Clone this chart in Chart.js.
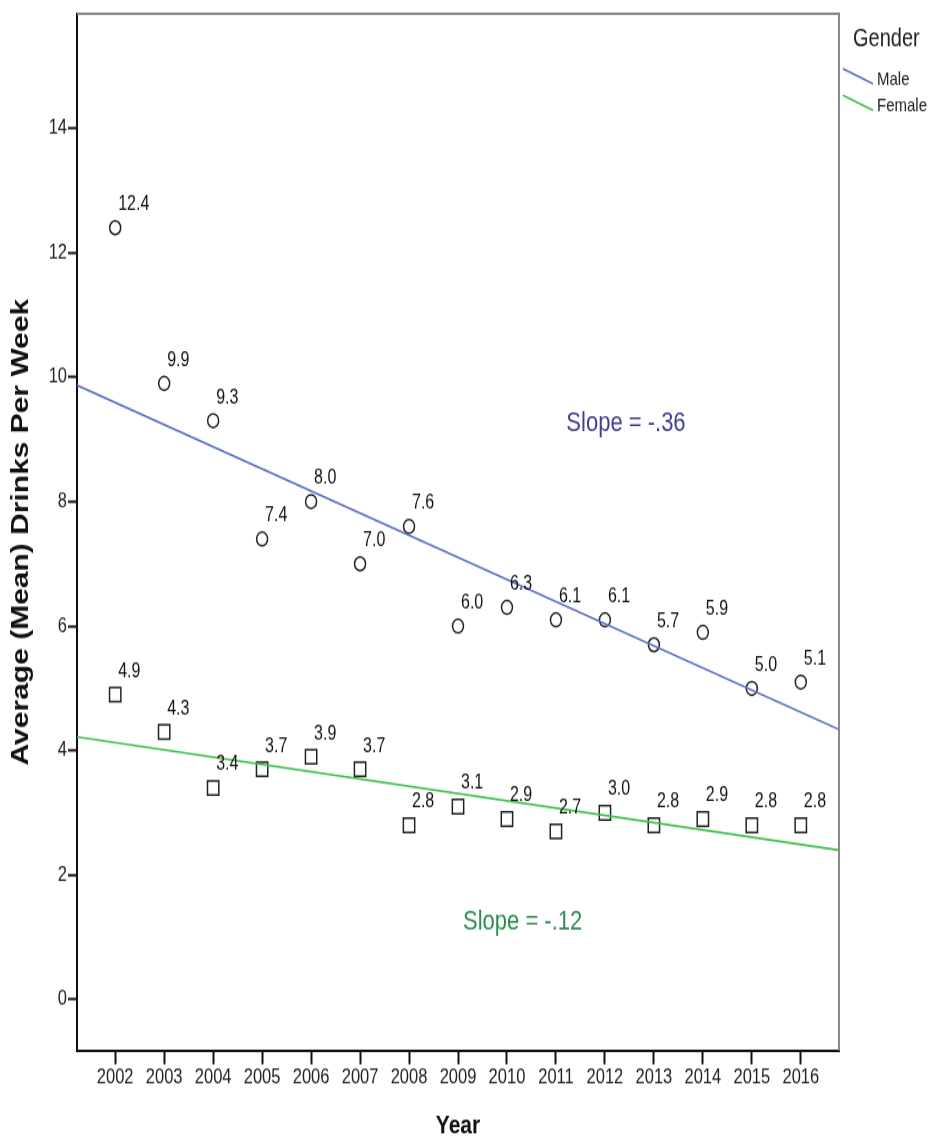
<!DOCTYPE html>
<html>
<head>
<meta charset="utf-8">
<script src="https://cdn.jsdelivr.net/npm/chart.js@4.4.1/dist/chart.umd.min.js"></script>
<style>
  html { margin: 0; padding: 0; background: #fff; overflow: hidden; }
  body { margin: 0; padding: 0; background: #fff; width: 931px; height: 1137px; }
  /* la imagen original esta estirada en vertical */
  #marco { width: 931px; height: 910px; transform: scaleY(1.2495); transform-origin: 0 0; }
</style>
</head>
<body>
<div id="marco"><canvas id="grafico" width="931" height="910"></canvas></div>
<script>
const anios = [2002, 2003, 2004, 2005, 2006, 2007, 2008, 2009, 2010, 2011, 2012, 2013, 2014, 2015, 2016];
const hombres = [12.4, 9.9, 9.3, 7.4, 8.0, 7.0, 7.6, 6.0, 6.3, 6.1, 6.1, 5.7, 5.9, 5.0, 5.1];
const mujeres = [4.9, 4.3, 3.4, 3.7, 3.9, 3.7, 2.8, 3.1, 2.9, 2.7, 3.0, 2.8, 2.9, 2.8, 2.8];

// extremos de las rectas de ajuste
const ajusteX = [2001.22, 2016.78];
const ajusteHombres = [9.87, 4.34];
const ajusteMujeres = [4.22, 2.40];

const marcasY = [0, 2, 4, 6, 8, 10, 12, 14];

const pendientes = [
  { texto: 'Slope = -.36', x: 2012.43, y: 9.26, color: '#3f3f8e' },
  { texto: 'Slope = -.12', x: 2010.32, y: 1.24, color: '#2f8a52' }
];

const fuente = '"Liberation Sans", Arial, sans-serif';

const aPuntos = (xs, ys) => xs.map((x, i) => ({ x: x, y: ys[i] }));

const etiquetasPuntos = {
  id: 'etiquetasPuntos',
  afterDatasetsDraw(chart) {
    const ctx = chart.ctx;
    ctx.save();
    ctx.font = '16px ' + fuente;
    ctx.fillStyle = '#111';
    ctx.textAlign = 'left';
    ctx.textBaseline = 'middle';
    chart.data.datasets.forEach((ds, i) => {
      if (!ds.etiquetar) return;
      chart.getDatasetMeta(i).data.forEach((p, j) => {
        ctx.fillText(ds.data[j].y.toFixed(1), p.x + 3, p.y - 18.5);
      });
    });

    // textos de pendiente
    const sx = chart.scales.x, sy = chart.scales.y;
    ctx.font = '22px ' + fuente;
    ctx.textAlign = 'center';
    pendientes.forEach(p => {
      ctx.fillStyle = p.color;
      ctx.fillText(p.texto, sx.getPixelForValue(p.x), sy.getPixelForValue(p.y));
    });
    ctx.restore();
  },
  afterDraw(chart) {
    const ctx = chart.ctx;
    const area = chart.chartArea;
    ctx.save();
    // borde superior y derecho en gris
    ctx.strokeStyle = '#8a8a8a';
    ctx.lineWidth = 2;
    ctx.beginPath();
    ctx.moveTo(area.left, area.top);
    ctx.lineTo(area.right, area.top);
    ctx.lineTo(area.right, area.bottom);
    ctx.stroke();

    // leyenda
    ctx.fillStyle = '#222';
    ctx.textAlign = 'left';
    ctx.textBaseline = 'middle';
    ctx.font = '20px ' + fuente;
    ctx.fillText('Gender', 853, 31);
    const lineas = chart.data.datasets.filter(ds => ds.enLeyenda);
    lineas.forEach((ds, i) => {
      const y0 = 55 + i * 21.3;
      ctx.strokeStyle = ds.borderColor;
      ctx.lineWidth = 1.5;
      ctx.beginPath();
      ctx.moveTo(843, y0);
      ctx.lineTo(873, y0 + 12);
      ctx.stroke();
      ctx.font = '15px ' + fuente;
      ctx.fillStyle = '#222';
      ctx.fillText(ds.label, 877, y0 + 9);
    });
    ctx.restore();
  }
};

const ctx = document.getElementById('grafico').getContext('2d');
const grafico = new Chart(ctx, {
  type: 'scatter',
  data: {
    datasets: [
      {
        label: 'Male',
        data: aPuntos(ajusteX, ajusteHombres),
        showLine: true,
        borderColor: '#5b6fc7',
        borderWidth: 1.6,
        pointRadius: 0,
        enLeyenda: true
      },
      {
        label: 'Female',
        data: aPuntos(ajusteX, ajusteMujeres),
        showLine: true,
        borderColor: '#3fbf4c',
        borderWidth: 1.6,
        pointRadius: 0,
        enLeyenda: true
      },
      {
        label: 'Male (medias)',
        data: aPuntos(anios, hombres),
        pointStyle: 'circle',
        pointRadius: 5.5,
        pointBorderWidth: 1.5,
        borderColor: '#222',
        backgroundColor: 'rgba(0,0,0,0)',
        etiquetar: true
      },
      {
        label: 'Female (medias)',
        data: aPuntos(anios, mujeres),
        pointStyle: 'rect',
        pointRadius: 8,
        pointBorderWidth: 1.5,
        borderColor: '#222',
        backgroundColor: 'rgba(0,0,0,0)',
        etiquetar: true
      }
    ]
  },
  options: {
    responsive: false,
    maintainAspectRatio: false,
    animation: false,
    layout: { padding: { top: 8.8, right: 92, left: 0, bottom: 0 } },
    scales: {
      x: {
        type: 'linear',
        min: 2001.22,
        max: 2016.78,
        afterBuildTicks: scale => { scale.ticks = anios.map(v => ({ value: v })); },
        afterFit: scale => { scale.height = 69.2; },
        grid: { drawOnChartArea: false, drawTicks: true, tickLength: 11, tickColor: '#111', tickWidth: 2 },
        border: { display: true, color: '#111', width: 2 },
        ticks: {
          color: '#222',
          padding: 1,
          maxRotation: 0,
          font: { family: fuente, size: 16.5 },
          callback: v => String(v)
        },
        title: {
          display: true,
          text: 'Year',
          color: '#111',
          font: { family: fuente, size: 21, weight: 'bold' },
          padding: { top: 0, bottom: -4 }
        }
      },
      y: {
        min: -0.82,
        max: 15.84,
        afterBuildTicks: scale => { scale.ticks = marcasY.map(v => ({ value: v })); },
        afterFit: scale => { scale.width = 77; },
        grid: { drawOnChartArea: false, drawTicks: true, tickLength: 9, tickColor: '#111', tickWidth: 2 },
        border: { display: true, color: '#111', width: 2 },
        ticks: {
          color: '#222',
          padding: 1,
          font: { family: fuente, size: 16.5 },
          callback: v => String(v)
        },
        title: {
          display: true,
          text: 'Average (Mean) Drinks Per Week',
          color: '#111',
          font: { family: fuente, size: 24, weight: 'bold' },
          padding: { top: 7, bottom: 0 }
        }
      }
    },
    plugins: {
      legend: { display: false },
      tooltip: { enabled: false }
    }
  },
  plugins: [etiquetasPuntos]
});
</script>
</body>
</html>
